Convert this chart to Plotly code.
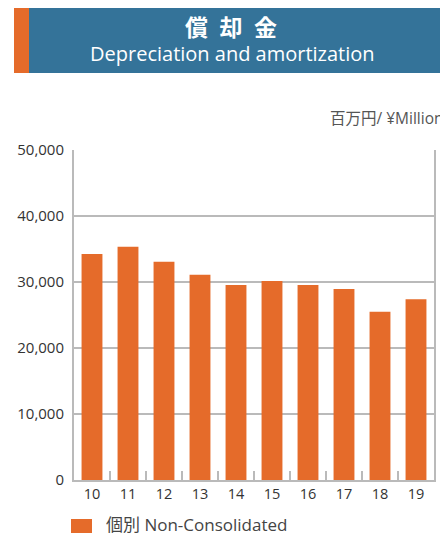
import plotly.graph_objects as go

years = ["10", "11", "12", "13", "14", "15", "16", "17", "18", "19"]
values = [34250, 35350, 33050, 31100, 29550, 30150, 29550, 28950, 25500, 27400]
y_ticks = [0, 10000, 20000, 30000, 40000, 50000]
y_tick_labels = ["0", "10,000", "20,000", "30,000", "40,000", "50,000"]
series_name = "個別 Non-Consolidated"

W, H = 448, 535
OFF = 8  # page body margin in the browser
# plot area in screen pixels: x 74..434, y 150..480
L = 74 - OFF
T = 150 - OFF
R = W - (434 - OFF)
B = H - (480 - OFF)
PW, PH = W - L - R, H - T - B

def px_x(sx):
    return (sx - OFF - L) / PW

def px_y(sy):
    return (H - B - (sy - OFF)) / PH

ORANGE = "#E56B2A"
BLUE = "#347399"
GRID = "#BABABA"
FONT = "Open Sans, Noto Sans CJK JP"
CJK = "Noto Sans CJK JP"

fig = go.Figure()
fig.add_trace(go.Bar(
    x=years, y=values, name=series_name, showlegend=False,
    marker=dict(color=ORANGE, line=dict(width=0)),
))

fig.update_layout(
    width=W, height=H,
    margin=dict(l=L, r=R, t=T, b=B, pad=0, autoexpand=False),
    paper_bgcolor="white", plot_bgcolor="white",
    bargap=0.42,
    font=dict(family=FONT, color="#333333", size=14),
    showlegend=False,
    xaxis=dict(
        showline=True, linecolor=GRID, linewidth=2, mirror=False,
        ticks="inside", tickson="boundaries", ticklen=9, tickwidth=2, tickcolor=GRID,
        tickfont=dict(size=14.5, color="#333333"), showgrid=False, fixedrange=True,
        automargin=False,
    ),
    yaxis=dict(
        range=[0, 50000], tickvals=y_ticks, ticktext=y_tick_labels,
        showline=True, linecolor=GRID, linewidth=2, mirror=True,
        showgrid=True, gridcolor=GRID, gridwidth=2, zeroline=False,
        ticks="", ticklabelstandoff=5, automargin=False,
        tickfont=dict(size=15, color="#333333"),
    ),
    shapes=[
        dict(type="rect", xref="paper", yref="paper", x0=px_x(29), x1=px_x(460),
             y0=px_y(73), y1=px_y(6), fillcolor=BLUE, line=dict(width=0), layer="above"),
        dict(type="rect", xref="paper", yref="paper", x0=px_x(14), x1=px_x(29),
             y0=px_y(73), y1=px_y(6), fillcolor=ORANGE, line=dict(width=0), layer="above"),
        # legend swatch
        dict(type="rect", xref="paper", yref="paper", x0=px_x(71), x1=px_x(92),
             y0=px_y(533), y1=px_y(519), fillcolor=ORANGE, line=dict(width=0)),
    ],
    annotations=[
        dict(text="<b>償\u2002却\u2002金</b>", xref="paper", yref="paper", x=px_x(231), y=px_y(26),
             xanchor="center", yanchor="middle", showarrow=False,
             font=dict(size=23, color="white", family=CJK)),
        dict(text="Depreciation and amortization", xref="paper", yref="paper",
             x=px_x(232), y=px_y(54), xanchor="center", yanchor="middle", showarrow=False,
             font=dict(size=20, color="white", family="Open Sans")),
        dict(text="百万円/ ¥Million", xref="paper", yref="paper", x=px_x(328), y=px_y(118),
             xanchor="left", yanchor="middle", showarrow=False,
             font=dict(size=15.5, color="#555555", family=FONT)),
        dict(text=series_name, xref="paper", yref="paper", x=px_x(104), y=px_y(524),
             xanchor="left", yanchor="middle", showarrow=False,
             font=dict(size=17, color="#444444", family=FONT)),
    ],
)

fig.write_html("out.html")
